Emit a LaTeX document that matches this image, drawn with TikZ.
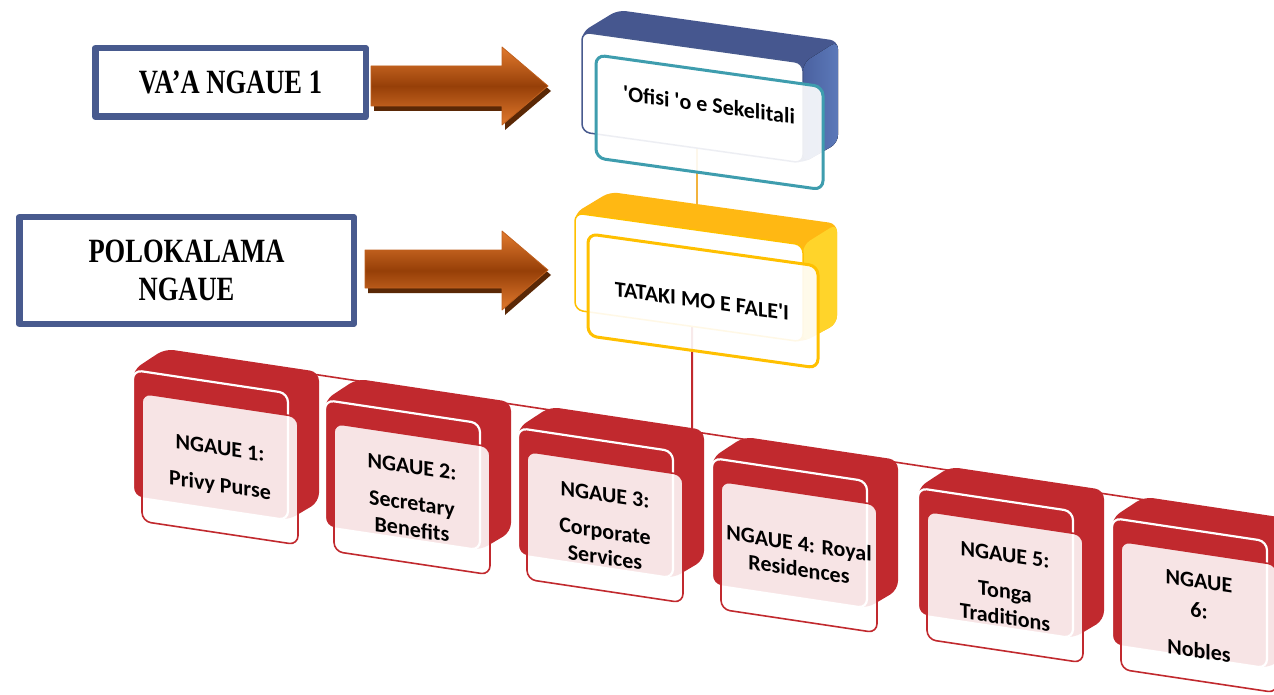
\documentclass[tikz,border=0pt]{standalone}
\usepackage{fontspec}
\newfontfamily\calib{Carlito}
\newfontfamily\camb[FakeStretch=0.78]{Liberation Serif}
\usetikzlibrary{calc}
\pgfdeclarelayer{bg}
\pgfsetlayers{bg,main}
\definecolor{redc}{HTML}{C1292E}
\definecolor{bluetop}{HTML}{46578F}
\definecolor{blueside}{HTML}{5C79B9}
\definecolor{bluesidedark}{HTML}{4A61A0}
\definecolor{blueline}{HTML}{485A8E}
\definecolor{tealc}{HTML}{3E9DAE}
\definecolor{goldtop}{HTML}{FFB813}
\definecolor{goldside}{HTML}{FFD42A}
\definecolor{goldline}{HTML}{FFC000}
\definecolor{goldconn}{HTML}{F2B33D}
\definecolor{arrowlight}{HTML}{E27A2E}
\definecolor{arrowdark}{HTML}{963F08}
\definecolor{arrowedge}{HTML}{C0601E}
\definecolor{arrowshadow}{HTML}{5A2806}
\newcommand\redblock[4]{%
\begin{scope}[shift={(#2,#3)}, yslant=-0.15]
  \fill[redc, rounded corners=9pt] (0,127) -- (0,0) -- (32,-26) -- (186,-26) -- (186,104) -- (155,127) -- cycle;
  \filldraw[fill=redc, draw=white, line width=2.2pt, rounded corners=9pt] (0,0) -- (155,0) -- (155,127) -- (0,127) -- cycle;
  \filldraw[card, draw=redc] (9,22) -- (165,22) -- (165,150) -- (9,150) -- cycle;
  \node[redtext] (t#1) at (87,85) {#4};
  \coordinate (r#1) at (80,-23);
\end{scope}}
\begin{document}
\begin{tikzpicture}[x=1pt,y=-1pt, line join=round,
  redtext/.style={font=\calib\bfseries\fontsize{22}{26}\selectfont, align=center, transform shape, inner sep=0pt},
  toptext/.style={font=\calib\bfseries\fontsize{22}{26}\selectfont, transform shape, inner sep=0pt},
  leftbox/.style={draw=blueline, line width=6.5pt, fill=white, align=center, font=\camb\bfseries\fontsize{34}{38}\selectfont, inner sep=0pt},
  arrowbody/.style={draw=arrowedge, line width=0.8pt, top color=arrowlight, bottom color=arrowlight, middle color=arrowdark},
  card/.style={fill=white, fill opacity=0.88, line width=1.6pt, rounded corners=9pt},
]
\useasboundingbox (0,0) rectangle (1274,695);
\begin{pgfonlayer}{bg}
  \fill[white] (0,0) rectangle (1274,695);
\end{pgfonlayer}

% left boxes
\node[leftbox, minimum width=270.5pt, minimum height=68.5pt] (vaa) at (230.5,82.5) {VA’A NGAUE 1};
\node[leftbox, minimum width=334.5pt, minimum height=106.5pt] (polo) at (186.5,270.5) {POLOKALAMA\\NGAUE};

% arrows
\fill[arrowshadow] (374,71) -- (505,71) -- (505,52) -- (551,91) -- (505,130) -- (505,111) -- (374,111) -- cycle;
\path[arrowbody] (371,66) -- (502,66) -- (502,47) -- (548,86) -- (502,125) -- (502,106) -- (371,106) -- cycle;
\fill[arrowshadow] (368,255) -- (505,255) -- (505,236) -- (551,275) -- (505,315) -- (505,293) -- (368,293) -- cycle;
\path[arrowbody] (365,250) -- (502,250) -- (502,231) -- (548,270) -- (502,310) -- (502,288) -- (365,288) -- cycle;

% blue block
\begin{scope}[shift={(582,32)}, yslant=-0.14]
  \fill[bluetop, rounded corners=8pt] (0,100) -- (0,0) -- (36,-27) -- (256,-27) -- (256,75) -- (221,100) -- cycle;
  \fill[left color=bluesidedark, right color=blueside, rounded corners=8pt] (221,0) -- (256,-27) -- (256,75) -- (221,100) -- cycle;
  \filldraw[fill=white, draw=blueline, line width=1.5pt, rounded corners=8pt] (0,0) -- (221,0) -- (221,100) -- (0,100) -- cycle;
  \filldraw[card, draw=tealc, line width=3pt, fill opacity=0.9] (14,21) -- (241,21) -- (241,124) -- (14,124) -- cycle;
  \node[toptext] (ofisi) at (127,55) {\textquotesingle Ofisi \textquotesingle o e Sekelitali};
  \coordinate (bluec) at (115,70);
\end{scope}

% yellow block
\begin{scope}[shift={(575,213)}, yslant=-0.14]
  \fill[goldtop, rounded corners=8pt] (0,97) -- (0,0) -- (35,-26) -- (262,-26) -- (262,74) -- (228,97) -- cycle;
  \fill[goldside, rounded corners=8pt] (228,0) -- (262,-26) -- (262,74) -- (228,97) -- cycle;
  \filldraw[fill=white, draw=goldline, line width=1.5pt, rounded corners=8pt] (0,0) -- (228,0) -- (228,97) -- (0,97) -- cycle;
  \filldraw[card, draw=goldline, line width=3pt, fill opacity=0.9] (13,19) -- (243,19) -- (243,121) -- (13,121) -- cycle;
  \node[toptext] (tataki) at (127,70) {TATAKI MO E FALE\textquotesingle I};
  \coordinate (yelc) at (122,60);
  \coordinate (yelr) at (117,60);
\end{scope}

% red blocks
\redblock{1}{133}{370}{NGAUE 1:\\[11pt]Privy Purse}
\redblock{2}{325}{400}{NGAUE 2:\\[11pt]Secretary\\Benefits}
\redblock{3}{518}{428}{NGAUE 3:\\[11pt]Corporate\\Services}
\redblock{4}{712}{458}{NGAUE 4: Royal\\Residences}
\redblock{5}{918}{488}{NGAUE 5:\\[11pt]Tonga\\Traditions}
\redblock{6}{1112}{518}{NGAUE\\[4pt]6:\\[14pt]Nobles}

% connectors (behind)
\coordinate (jnb) at (692,650);
\coordinate (jn) at (intersection of r1--r6 and yelr--jnb);
\begin{pgfonlayer}{bg}
  \draw[goldconn, line width=2pt] (bluec) -- (yelc);
  \draw[redc, line width=2pt] (yelr) -- (jn);
  \draw[redc, line width=1.6pt] (r1) -- (r6);
\end{pgfonlayer}
\end{tikzpicture}
\end{document}
